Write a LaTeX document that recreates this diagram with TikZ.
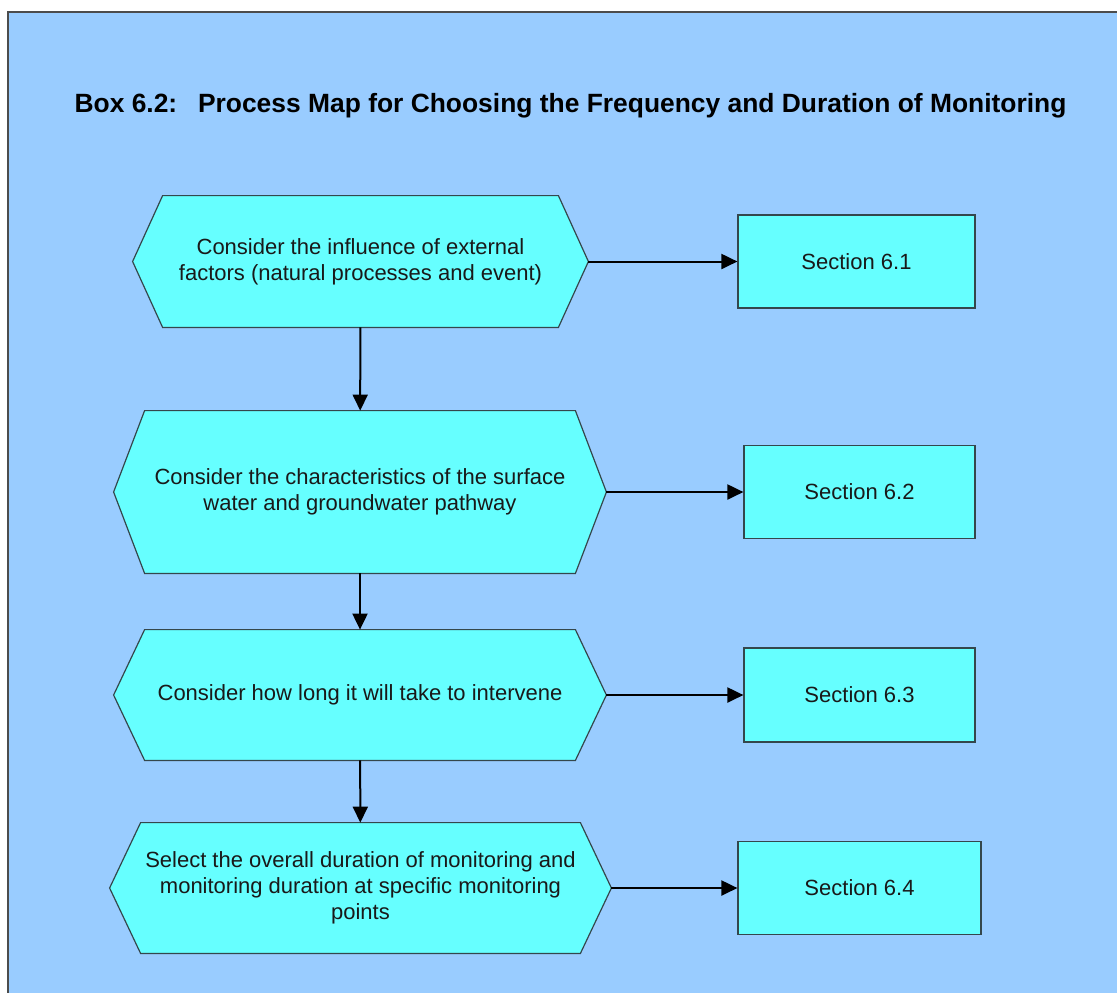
\documentclass[tikz,border=0pt]{standalone}
\usepackage{fontspec}
\setmainfont{Liberation Sans}
\usetikzlibrary{arrows.meta,calc,backgrounds}
\definecolor{boxblue}{HTML}{99CCFF}
\definecolor{boxcyan}{HTML}{66FFFF}
\definecolor{edgegray}{HTML}{34474C}
\tikzset{
  hexa/.style={inner sep=0pt, align=center, text=black!90,
    font=\fontsize{11}{13}\selectfont},
  sect/.style={draw=edgegray, fill=boxcyan, line width=0.6pt, inner sep=0pt,
    text=black!90, font=\fontsize{11}{13}\selectfont},
  hexline/.style={draw=edgegray, fill=boxcyan, line width=0.6pt},
  >={Triangle[length=8pt,width=7.5pt]}
}
% hexagon round a node: name, depth of the points
\newcommand\hexframe[2]{%
  \draw[hexline] ($(#1.north west)+(#2,0)$) -- ($(#1.north east)-(#2,0)$) -- (#1.east)
    -- ($(#1.south east)-(#2,0)$) -- ($(#1.south west)+(#2,0)$) -- (#1.west) -- cycle;}
\begin{document}
\begin{tikzpicture}[x=0.5pt,y=-0.5pt]
  \useasboundingbox (0,0) rectangle (1117,992);
  \node[anchor=base, font=\bfseries\fontsize{13.2}{15}\selectfont] (title) at (570.5,112)
    {Box 6.2:\hspace{5.5pt} Process Map for Choosing the Frequency and Duration of Monitoring};

  % process steps
  \node[hexa, minimum width=227.5pt, minimum height=65.5pt] (h1) at (360.5,261.5)
    {Consider the influence of external\\factors (natural processes and event)};
  \node[hexa, minimum width=246pt, minimum height=81pt] (h2) at (360,492)
    {Consider the characteristics of the surface\\water and groundwater pathway};
  \node[hexa, minimum width=246pt, minimum height=65pt] (h3) at (360,695)
    {Consider how long it will take to intervene};
  \node[hexa, minimum width=250.5pt, minimum height=65pt] (h4) at (360.5,888)
    {Select the overall duration of monitoring and\\monitoring duration at specific monitoring\\points};

  % sections
  \node[sect, minimum width=118.5pt, minimum height=46.5pt] (s1) at (856.5,261.5) {Section 6.1};
  \node[sect, minimum width=115.5pt, minimum height=46.5pt] (s2) at (859.5,492) {Section 6.2};
  \node[sect, minimum width=115.5pt, minimum height=47pt] (s3) at (859.5,695) {Section 6.3};
  \node[sect, minimum width=121.5pt, minimum height=46.5pt] (s4) at (859.5,888) {Section 6.4};

  \begin{scope}[on background layer]
    \fill[white] (0,0) rectangle (1117,992);
    \draw[draw=gray!60!black, fill=boxblue, line width=0.6pt] (8,12) rectangle (1130,1005);
    \hexframe{h1}{30}
    \hexframe{h2}{31}
    \hexframe{h3}{31}
    \hexframe{h4}{31}
  \end{scope}

  \draw[->, line width=1pt] (h1) edge (s1);
  \draw[->, line width=1pt] (h2) edge (s2);
  \draw[->, line width=1pt] (h3) edge (s3);
  \draw[->, line width=1pt] (h4) edge (s4);
  \draw[->, line width=1pt] (h1) edge (h2);
  \draw[->, line width=1pt] (h2) edge (h3);
  \draw[->, line width=1pt] (h3) edge (h4);
\end{tikzpicture}
\end{document}
